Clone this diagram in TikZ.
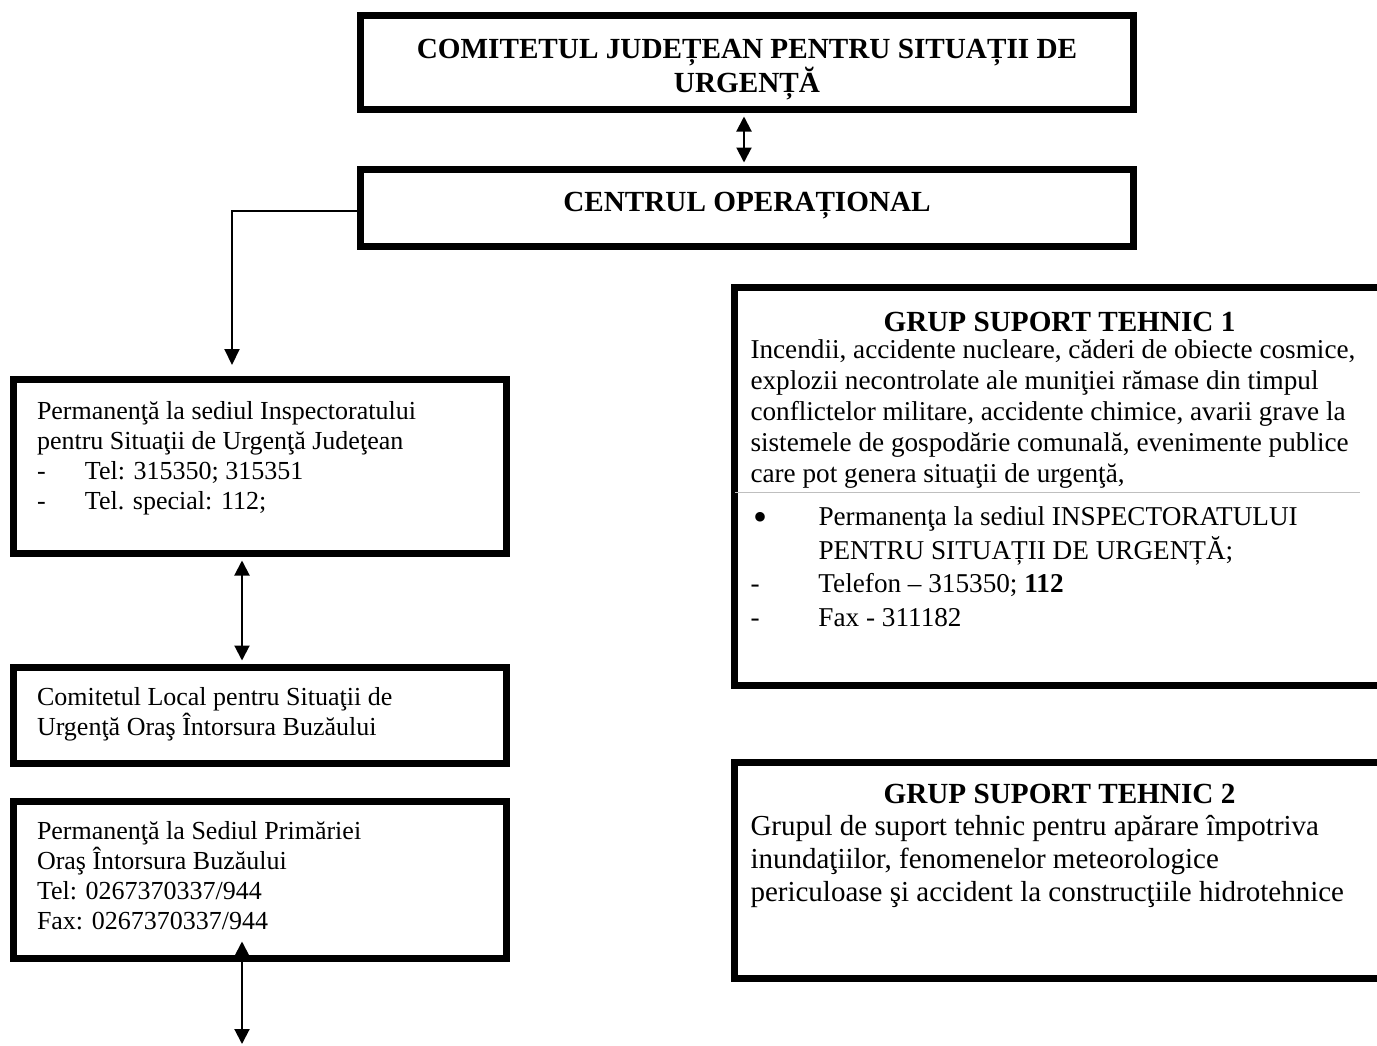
\documentclass[tikz,border=0pt]{standalone}
\usepackage{fontspec}
\setmainfont{Liberation Serif}
\usetikzlibrary{arrows.meta}

\newcommand{\cutie}[3]{\begin{minipage}[c][#1][t]{#2}#3\end{minipage}}
\newcommand{\titlu}{\fontsize{14.6}{17}\selectfont\bfseries}
\newcommand{\textmic}{\fontsize{13}{15}\selectfont}
\newcommand{\bulina}{\raisebox{-2.2pt}{\fontsize{20}{20}\selectfont•}}

\begin{document}
\begin{tikzpicture}[x=0.5pt,y=-0.5pt,
  chenar/.style={draw, line width=3.5pt, inner ysep=0pt, inner xsep=#1},
  chenar/.default=0pt,
  sageata/.style={line width=1pt, {Triangle[width=7.5pt,length=7.5pt]}-{Triangle[width=7.5pt,length=7.5pt]}, shorten <=1.75pt, shorten >=1.75pt}]
  \useasboundingbox (0,0) rectangle (1377,1045);
  \clip (0,0) rectangle (1377,1045);

  % nivel judetean
  \node[chenar] (comitet) at (747,62.5) {\cutie{47pt}{386.5pt}{\centering\titlu\rule{0pt}{21.25pt}COMITETUL JUDEȚEAN PENTRU SITUAȚII DE\\URGENȚĂ}};
  \node[chenar] (centrul) at (747,208) {\cutie{38.5pt}{386.5pt}{\centering\titlu\rule{0pt}{20.75pt}CENTRUL OPERAȚIONAL}};

  % coloana din stanga
  \node[chenar=11.75pt] (isu) at (260,466.5) {\cutie{87pt}{223pt}{\textmic\rule{0pt}{19.75pt}Permanenţă la sediul Inspectoratului\\
    pentru Situaţii de Urgenţă Judeţean\\
    \makebox[24pt][l]{-}Tel: 315350; 315351\\
    \makebox[24pt][l]{-}Tel. special: 112;}};
  \node[chenar=11.75pt] (local) at (260,715.5) {\cutie{48pt}{223pt}{\textmic\rule{0pt}{18.75pt}Comitetul Local pentru Situaţii de\\
    Urgenţă Oraş Întorsura Buzăului}};
  \node[chenar=11.75pt] (primarie) at (260,880) {\cutie{78.5pt}{223pt}{\textmic\rule{0pt}{18.75pt}Permanenţă la Sediul Primăriei\\
    Oraş Întorsura Buzăului\\
    Tel: 0267370337/944\\
    Fax: 0267370337/944}};

  % grupuri de suport
  \node[chenar=8.25pt, anchor=north west] (gst1) at (730.5,283.5) {\cutie{199pt}{318.25pt}{%
    \makebox[309pt]{\titlu\rule{0pt}{22.25pt}GRUP SUPORT TEHNIC 1}\par
    \vspace{-2pt}
    {\fontsize{13.6}{15.5}\selectfont Incendii, accidente nucleare, căderi de obiecte cosmice,\\
    explozii necontrolate ale muniţiei rămase din timpul\\
    conflictelor militare, accidente chimice, avarii grave la\\
    sistemele de gospodărie comunală, evenimente publice\\
    care pot genera situaţii de urgenţă,\par}
    \vspace{5pt}
    {\fontsize{13.6}{16.7}\selectfont \makebox[34pt][l]{\hspace{1.5pt}\bulina}Permanenţa la sediul INSPECTORATULUI\\
    \hspace*{34pt}PENTRU SITUAȚII DE URGENȚĂ;\\
    \makebox[34pt][l]{-}Telefon – 315350; \textbf{112}\\
    \makebox[34pt][l]{-}Fax - 311182\par}}};
  \draw[gray!50, line width=0.5pt] (735,492) -- (1360,492);

  \node[chenar=8.25pt, anchor=north west] (gst2) at (730.5,758.5) {\cutie{108pt}{318.25pt}{%
    \makebox[309pt]{\titlu\rule{0pt}{20.75pt}GRUP SUPORT TEHNIC 2}\par
    \vspace{-0.5pt}
    {\fontsize{14.5}{16.5}\selectfont Grupul de suport tehnic pentru apărare împotriva\\
    inundaţiilor, fenomenelor meteorologice\\
    periculoase şi accident la construcţiile hidrotehnice\par}}};

  % legaturi
  \draw[sageata] ([xshift=-1.5pt]comitet.south) -- ([xshift=-1.5pt]centrul.north);
  \draw[line width=1pt, -{Triangle[width=7.5pt,length=8pt]}, shorten >=5.5pt] ([yshift=-1.5pt]centrul.west) -| ([xshift=-14pt]isu.north);
  \draw[sageata] ([xshift=-9pt]isu.south) -- ([xshift=-9pt]local.north);
  \coordinate (sus) at ([xshift=-9pt,yshift=10.25pt]primarie.south);
  \coordinate (jos) at (242,1044);
  \draw[sageata, shorten <=0pt, shorten >=0pt] (sus) -- (jos);
\end{tikzpicture}
\end{document}
